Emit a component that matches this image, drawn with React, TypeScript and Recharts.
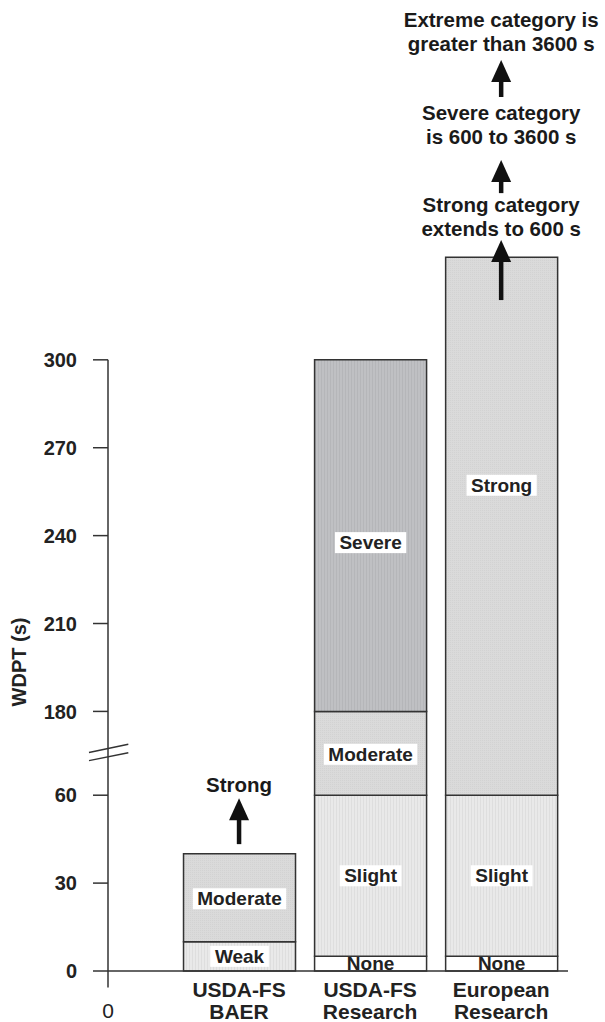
import React from "react";
import { BarChart, Bar, XAxis, YAxis, Cell, LabelList, ReferenceLine, ReferenceDot } from "recharts";

const FONT = '"Liberation Sans", Arial, Helvetica, sans-serif';

const categories = ["USDA-FS\nBAER", "USDA-FS\nResearch", "European\nResearch"];
const xTickLabels = ["0", ...categories];

// class names and their upper limits (s), bottom to top
const baerClasses = ["Weak", "Moderate"];
const baerLimits = [10, 40];
const researchClasses = ["None", "Slight", "Moderate", "Severe"];
const researchLimits = [5, 60, 180, 300];
const europeanClasses = ["None", "Slight", "Strong"];
const europeanLimits = [5, 60, 335]; // strong runs off the top (to 600 s)

const yTickValues = [0, 30, 60, 180, 210, 240, 270, 300];

// broken axis: the 60-180 stretch is squeezed
const BREAK_LO = 60;
const BREAK_HI = 180;
const BREAK_SPAN = 28.6;
const toAxis = (v: number) =>
  v <= BREAK_LO
    ? v
    : v >= BREAK_HI
    ? v - BREAK_HI + BREAK_LO + BREAK_SPAN
    : BREAK_LO + ((v - BREAK_LO) / (BREAK_HI - BREAK_LO)) * BREAK_SPAN;

const groups = [
  { classes: baerClasses, limits: baerLimits },
  { classes: researchClasses, limits: researchLimits },
  { classes: europeanClasses, limits: europeanLimits },
];

const SEGMENTS = 4;
const rows = groups.map((g, i) => {
  const row: Record<string, any> = { x: i + 1, cat: categories[i] };
  let prev = 0;
  for (let j = 0; j < SEGMENTS; j++) {
    const lim = g.limits[j];
    if (lim === undefined) {
      row[`s${j}`] = 0;
      row[`n${j}`] = null;
    } else {
      row[`s${j}`] = toAxis(lim) - toAxis(prev);
      row[`n${j}`] = g.classes[j];
      prev = lim;
    }
  }
  return row;
});

const fills: Record<string, string> = {
  None: "#ffffff",
  Weak: "url(#stripeLight)",
  Slight: "url(#stripeLight)",
  Moderate: "url(#dotMid)",
  Strong: "url(#dotMid)",
  Severe: "url(#stripeDark)",
};

// label nudges (px) where the original labels are not centred
const labelNudge: Record<string, number> = {
  Strong: -41,
  Severe: 7,
  Moderate: 1,
};

// annotation positions on the (broken) axis scale
const notes = [
  { x: 3, y: 322.2, lines: ["Extreme category is", "greater than 3600 s"] },
  { x: 3, y: 290.4, lines: ["Severe category", "is 600 to 3600 s"] },
  { x: 3, y: 259.0, lines: ["Strong category", "extends to 600 s"] },
  { x: 1, y: 61.1, lines: ["Strong"] },
];
const arrows = [
  { x: 3, from: 298.3, to: 310.9 },
  { x: 3, from: 265.5, to: 276.8 },
  { x: 3, from: 229.0, to: 249.5 },
  { x: 1, from: 43.3, to: 59.0 },
];

const charW: Record<string, number> = {
  M: 0.833, o: 0.611, d: 0.611, e: 0.556, r: 0.389, a: 0.556, t: 0.333, S: 0.667,
  l: 0.278, i: 0.278, g: 0.611, h: 0.611, v: 0.556, W: 0.944, k: 0.556, n: 0.611, N: 0.722,
};
const textWidth = (s: string, fs: number) =>
  s.split("").reduce((acc, c) => acc + (charW[c] ?? 0.6), 0) * fs;

const LABEL_FS = 19;

const renderSegLabel = (props: any) => {
  const vb = props.viewBox ?? props;
  const { x, y, width, height } = vb;
  const name = props.value;
  if (!name || !height) return null;
  const cx = x + width / 2;
  const cy = y + height / 2 + (labelNudge[name] ?? 0);
  const w = textWidth(name, LABEL_FS) + 9;
  return (
    <g>
      {name !== "None" && <rect x={cx - w / 2} y={cy - 10.5} width={w} height={21} fill="#ffffff" />}
      <text
        x={cx}
        y={cy}
        textAnchor="middle"
        dominantBaseline="central"
        fontFamily={FONT}
        fontWeight={700}
        fontSize={LABEL_FS}
        fill="#222"
      >
        {name}
      </text>
    </g>
  );
};

const XTick = (props: any) => {
  const { x, y, payload } = props;
  const label = xTickLabels[payload.value] ?? "";
  const lines = label.split("\n");
  if (lines.length === 1) {
    return (
      <text x={x} y={y + 47} textAnchor="middle" fontFamily={FONT} fontSize={21} fill="#222">
        {label}
      </text>
    );
  }
  return (
    <text x={x} y={y + 26} textAnchor="middle" fontFamily={FONT} fontWeight={700} fontSize={21} fill="#222">
      {lines.map((l, i) => (
        <tspan key={i} x={x} dy={i === 0 ? 0 : 22}>
          {l}
        </tspan>
      ))}
    </text>
  );
};

export default function App() {
  return (
    <div style={{ position: "absolute", left: 0, top: 0, width: 605, height: 1022, background: "#fff" }}>
      <BarChart width={605} height={1022} data={rows} margin={{ top: 10, right: 37, bottom: 1, left: 48 }}>
        <defs>
          <pattern id="stripeLight" width="3" height="4" patternUnits="userSpaceOnUse">
            <rect width="3" height="4" fill="#e9e9e9" />
            <rect width="1" height="4" fill="#dedede" />
          </pattern>
          <pattern id="stripeDark" width="3" height="4" patternUnits="userSpaceOnUse">
            <rect width="3" height="4" fill="#bfc0c3" />
            <rect width="1" height="4" fill="#b5b6b9" />
          </pattern>
          <pattern id="dotMid" width="2" height="2" patternUnits="userSpaceOnUse">
            <rect width="2" height="2" fill="#dadada" />
            <rect width="1" height="1" fill="#d2d2d2" />
          </pattern>
        </defs>
        <XAxis
          type="number"
          dataKey="x"
          domain={[0, 3.51]}
          ticks={[0, 1, 2, 3]}
          interval={0}
          tickLine={false}
          tickSize={0}
          tickMargin={0}
          height={50}
          axisLine={{ stroke: "#333", strokeWidth: 1.5 }}
          tick={<XTick />}
        />
        <YAxis
          type="number"
          domain={[0, 328]}
          ticks={yTickValues.map(toAxis)}
          interval={0}
          width={60}
          axisLine={false}
          tickLine={{ stroke: "#333", strokeWidth: 1.5 }}
          tickSize={15}
          tickMargin={16}
          tick={{ fill: "#222", fontSize: 20, fontWeight: 700, fontFamily: FONT }}
          tickFormatter={(v: number) => {
            const t = yTickValues.find((tv) => Math.abs(toAxis(tv) - v) < 0.01);
            return t === undefined ? "" : String(t);
          }}
          label={{
            content: () => (
              <text
                x={19}
                y={662}
                transform="rotate(-90 19 662)"
                textAnchor="middle"
                dominantBaseline="central"
                fontFamily={FONT}
                fontWeight={700}
                fontSize={20}
                fill="#222"
              >
                WDPT (s)
              </text>
            ),
          }}
        />
        {Array.from({ length: SEGMENTS }, (_, j) => (
          <Bar
            key={j}
            dataKey={`s${j}`}
            stackId="a"
            barSize={112}
            stroke="#333"
            strokeWidth={1.5}
            isAnimationActive={false}
          >
            {rows.map((r, i) => (
              <Cell key={i} fill={r[`n${j}`] ? fills[r[`n${j}`]] : "none"} />
            ))}
            <LabelList dataKey={`n${j}`} content={renderSegLabel} />
          </Bar>
        ))}
        {/* y axis line, running down past 0 as the x tick at 0 */}
        <ReferenceLine
          segment={[
            { x: 0, y: -5.6 },
            { x: 0, y: toAxis(300) },
          ]}
          stroke="#333"
          strokeWidth={1.5}
          ifOverflow="visible"
        />
        {/* axis break marks */}
        <ReferenceLine
          segment={[
            { x: -0.145, y: 74.6 },
            { x: 0.155, y: 77.4 },
          ]}
          stroke="#333"
          strokeWidth={1.5}
          ifOverflow="visible"
        />
        <ReferenceLine
          segment={[
            { x: -0.145, y: 71.8 },
            { x: 0.155, y: 74.5 },
          ]}
          stroke="#333"
          strokeWidth={1.5}
          ifOverflow="visible"
        />
        {arrows.map((a, i) => (
          <ReferenceLine
            key={`shaft${i}`}
            segment={[
              { x: a.x, y: a.from },
              { x: a.x, y: a.to - 4 },
            ]}
            stroke="#111"
            strokeWidth={4.5}
            ifOverflow="visible"
          />
        ))}
        {arrows.map((a, i) => (
          <ReferenceDot
            key={`head${i}`}
            x={a.x}
            y={a.to}
            r={1}
            ifOverflow="visible"
            shape={(p: any) => (
              <polygon
                points={`${p.cx},${p.cy} ${p.cx - 10},${p.cy + 22} ${p.cx + 10},${p.cy + 22}`}
                fill="#111"
              />
            )}
          />
        ))}
        {notes.map((n, i) => (
          <ReferenceDot
            key={`note${i}`}
            x={n.x}
            y={n.y}
            r={1}
            ifOverflow="visible"
            shape={(p: any) => (
              <text
                x={p.cx}
                y={p.cy}
                textAnchor="middle"
                fontFamily={FONT}
                fontWeight={700}
                fontSize={20.5}
                fill="#1a1a1a"
              >
                {n.lines.map((l, k) => (
                  <tspan key={k} x={p.cx} dy={k === 0 ? 0 : 24}>
                    {l}
                  </tspan>
                ))}
              </text>
            )}
          />
        ))}
      </BarChart>
    </div>
  );
}
